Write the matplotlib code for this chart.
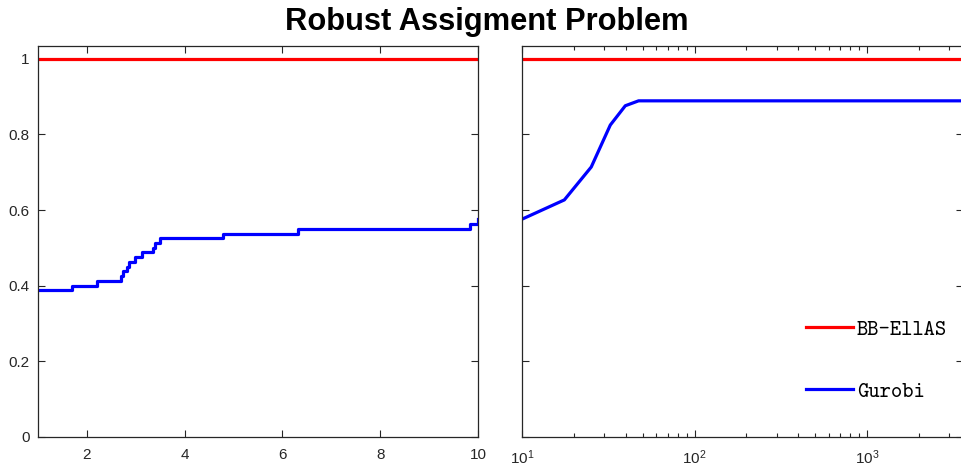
import os
import matplotlib
matplotlib.use("Agg")
import matplotlib.pyplot as plt
from matplotlib.font_manager import FontProperties

# performance profile values
lin_x = [1, 1.69, 2.2, 2.69, 2.745, 2.82, 2.87, 2.98, 3.13, 3.35, 3.40, 3.50, 4.79, 6.31, 9.83, 9.99, 10]
lin_gurobi = [0.388, 0.400, 0.413, 0.426, 0.438, 0.450, 0.462, 0.475, 0.488, 0.500,
              0.513, 0.525, 0.538, 0.550, 0.563, 0.576, 0.576]
lin_ellas_x = [1, 10]
lin_ellas = [1, 1]

log_x = [10, 17.6, 25.2, 32.5, 39.7, 47.4, 3600]
log_gurobi = [0.576, 0.627, 0.714, 0.825, 0.876, 0.889, 0.889]
log_ellas_x = [10, 3600]
log_ellas = [1, 1]

labels = ["BB-EllAS", "Gurobi"]

plt.rcParams['font.family'] = ['Liberation Sans', 'DejaVu Sans']

fig = plt.figure(figsize=(9.62, 4.67), dpi=100)
ax1 = fig.add_axes([38/962, 30/467, 440/962, 391/467])
ax2 = fig.add_axes([522/962, 30/467, 441/962, 391/467])

ax1.plot(lin_ellas_x, lin_ellas, color='#ff0000', lw=2.3)
ax1.plot(lin_x, lin_gurobi, color='#0000ff', lw=2.3, drawstyle='steps-post')
ax1.set_xlim(1, 10)
ax1.set_xticks([2, 4, 6, 8, 10])

ax2.plot(log_ellas_x, log_ellas, color='#ff0000', lw=2.3, label=labels[0])
ax2.plot(log_x, log_gurobi, color='#0000ff', lw=2.3, label=labels[1])
ax2.set_xscale('log')
ax2.set_xlim(10, 3600)
ax2.set_yticklabels([])

for ax in (ax1, ax2):
    ax.set_ylim(0, 1.034)
    ax.set_yticks([0, 0.2, 0.4, 0.6, 0.8, 1])
    ax.tick_params(which='both', direction='in', top=True, right=True,
                   labelsize=11, colors='#262626', width=0.8)
    ax.tick_params(which='major', length=5)
    ax.tick_params(which='minor', length=3)
    ax.tick_params(axis='x', pad=8)
    ax.tick_params(axis='y', pad=6)
    for s in ax.spines.values():
        s.set_color('#262626')
        s.set_linewidth(0.9)
ax1.set_yticklabels(['0', '0.2', '0.4', '0.6', '0.8', '1'])

tt_path = os.path.join(matplotlib.get_data_path(), 'fonts', 'ttf', 'cmtt10.ttf')
tt_font = FontProperties(fname=tt_path, size=15.5)
ax2.legend(loc='upper left', bbox_to_anchor=(0.645, 0.30), frameon=False,
           prop=tt_font, handlelength=2.15, handletextpad=0.2,
           labelspacing=1.95, borderpad=0, borderaxespad=0)

fig.suptitle("Robust Assigment Problem", fontsize=22.2, fontweight='bold',
             x=0.506, y=0.986)

fig.savefig("out.png", dpi=100)
